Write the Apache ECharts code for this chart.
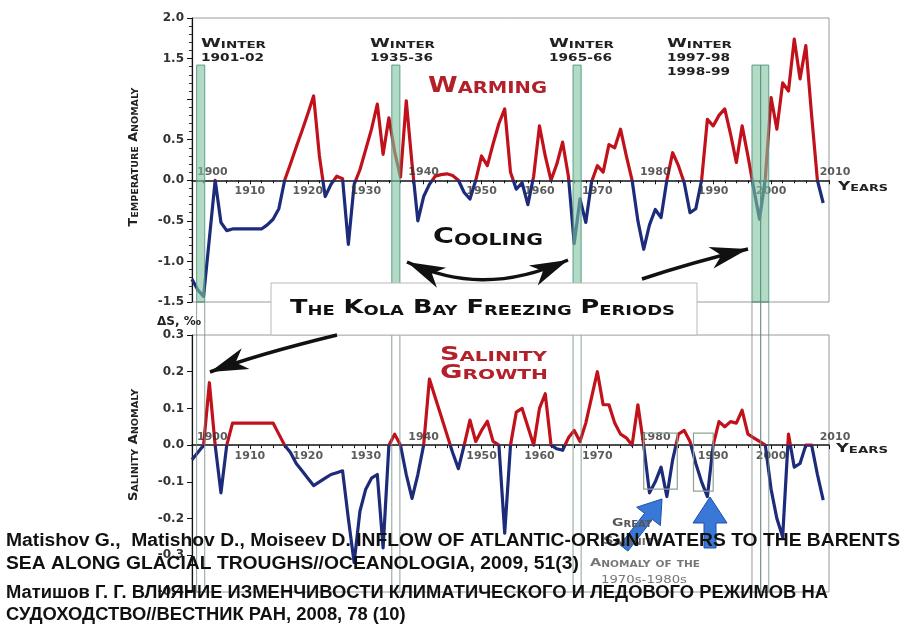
<!DOCTYPE html>
<html>
<head>
<meta charset="utf-8">
<script src="https://cdn.jsdelivr.net/npm/echarts@6/dist/echarts.min.js"></script>
<style>
  html, body { margin: 0; padding: 0; background: #fff; }
  #chart { width: 905px; height: 630px; }
</style>
</head>
<body>
<div id="chart"></div>
<script>
// ---- data -------------------------------------------------------------
const years = [
  1900,1901,1902,1903,1904,1905,1906,1907,1908,1909,
  1910,1911,1912,1913,1914,1915,1916,1917,1918,1919,
  1920,1921,1922,1923,1924,1925,1926,1927,1928,1929,
  1930,1931,1932,1933,1934,1935,1936,1937,1938,1939,
  1940,1941,1942,1943,1944,1945,1946,1947,1948,1949,
  1950,1951,1952,1953,1954,1955,1956,1957,1958,1959,
  1960,1961,1962,1963,1964,1965,1966,1967,1968,1969,
  1970,1971,1972,1973,1974,1975,1976,1977,1978,1979,
  1980,1981,1982,1983,1984,1985,1986,1987,1988,1989,
  1990,1991,1992,1993,1994,1995,1996,1997,1998,1999,
  2000,2001,2002,2003,2004,2005,2006,2007,2008,2009
];

// Kola section temperature anomaly, degrees C
const temperatureAnomaly = [
  -1.22,-1.35,-1.43,-0.72, 0.00,-0.52,-0.62,-0.60,-0.60,-0.60,
  -0.60,-0.60,-0.60,-0.55,-0.48,-0.35, 0.00, 0.20, 0.41, 0.61,
   0.82, 1.04, 0.30,-0.20,-0.05, 0.05, 0.02,-0.79,-0.05, 0.13,
   0.38, 0.63, 0.94, 0.32, 0.77, 0.35, 0.04, 0.98, 0.20,-0.50,
  -0.20,-0.05, 0.05, 0.07, 0.08, 0.06, 0.00,-0.15,-0.23, 0.00,
   0.30, 0.18, 0.45, 0.70, 0.88, 0.10,-0.11,-0.03,-0.30, 0.05,
   0.67, 0.30, 0.00, 0.20, 0.47, 0.05,-0.78,-0.23,-0.52,-0.02,
   0.18, 0.10, 0.44, 0.40, 0.63, 0.30, 0.00,-0.50,-0.85,-0.55,
  -0.36,-0.46, 0.00, 0.34, 0.18,-0.03,-0.40,-0.35, 0.00, 0.75,
   0.67, 0.80, 0.88, 0.57, 0.22, 0.67, 0.30,-0.10,-0.48, 0.02,
   1.02, 0.63, 1.20, 1.10, 1.74, 1.25, 1.66, 0.80, 0.00,-0.28
];

// Salinity anomaly, per mille
const salinityAnomaly = [
  -0.04,-0.02, 0.00, 0.17, 0.00,-0.13, 0.00, 0.06, 0.06, 0.06,
   0.06, 0.06, 0.06, 0.06, 0.06, 0.03, 0.00,-0.02,-0.05,-0.07,
  -0.09,-0.11,-0.10,-0.09,-0.08,-0.075,-0.07,-0.20,-0.32,-0.18,
  -0.12,-0.09,-0.08,-0.28, 0.00, 0.03, 0.00,-0.08,-0.145,-0.08,
   0.00, 0.18, 0.13, 0.08, 0.03,-0.02,-0.064, 0.00, 0.068, 0.01,
   0.04, 0.065, 0.01, 0.00,-0.24, 0.00, 0.09, 0.10, 0.05, 0.00,
   0.10, 0.14, 0.00,-0.01,-0.014, 0.02, 0.04, 0.01, 0.06, 0.13,
   0.20, 0.11, 0.11, 0.06, 0.03, 0.02, 0.00, 0.11, 0.00,-0.13,
  -0.10,-0.06,-0.14,-0.04, 0.03, 0.04, 0.01,-0.05,-0.10,-0.14,
   0.00, 0.064, 0.05, 0.064, 0.06, 0.095, 0.03, 0.02, 0.01, 0.00,
  -0.12,-0.20,-0.25, 0.03,-0.06,-0.05, 0.00, 0.00,-0.08,-0.15
];

// Kola Bay freezing winters, [start, end] in fractional years
const freezingPeriods = [
  [1900.8, 1902.2],
  [1934.5, 1935.9],
  [1965.8, 1967.2],
  [1996.7, 1998.2],
  [1998.2, 1999.6]
];
const freezingBarTop = 1.42;

// Great Salinity Anomaly windows: [start, end, top, bottom]
const gsaWindows = [
  [1978.0, 1983.8, 0.033, -0.12],
  [1986.6, 1990.0, 0.033, -0.125]
];

// tick labels
const yearTicks = [1900, 1910, 1920, 1930, 1940, 1950, 1960, 1970, 1980, 1990, 2000, 2010];
const yearsAboveAxis = [1900, 1940, 1980, 2010];
const temperatureTicks = ['2.0', '1.5', '0.5', '0.0', '-0.5', '-1.0', '-1.5'];

// references printed under the chart
const references = [
  'Matishov G.,  Matishov D., Moiseev D. INFLOW OF ATLANTIC-ORIGIN WATERS TO THE BARENTS',
  'SEA ALONG GLACIAL TROUGHS//OCEANOLOGIA, 2009, 51(3)',
  'Матишов Г. Г. ВЛИЯНИЕ ИЗМЕНЧИВОСТИ КЛИМАТИЧЕСКОГО И ЛЕДОВОГО РЕЖИМОВ НА',
  'СУДОХОДСТВО//ВЕСТНИК РАН, 2008, 78 (10)'
];

// ---- style ------------------------------------------------------------
const RED = '#c1121c';
const BLUE = '#1c2b7a';
const AXIS_FONT = '"DejaVu Sans", sans-serif';
const CAPS_FONT = '"DejaVu Sans"';
const CITE_FONT = '"Liberation Sans"';

const chart = echarts.init(document.getElementById('chart'), null, { renderer: 'canvas' });

function fmtTick(v) {
  if (Math.abs(v) < 1e-9) return '0.0';
  return v.toFixed(1);
}

function makeXAxis(gridIndex) {
  return {
    type: 'value', gridIndex, min: 1900, max: 2010, interval: 10,
    axisLine: { onZero: true, lineStyle: { color: '#111', width: 1.5 } },
    axisTick: { show: true, length: 4, lineStyle: { color: '#111' } },
    minorTick: { show: true, splitNumber: 5, length: 3, lineStyle: { color: '#111' } },
    splitLine: { show: false },
    axisLabel: { show: false }
  };
}

function makeYAxis(gridIndex, min, max, interval, minor, formatter) {
  return {
    type: 'value', gridIndex, min, max, interval,
    axisLine: { show: true, onZero: false, lineStyle: { color: '#111', width: 1.2 } },
    axisTick: { show: true, length: 5, lineStyle: { color: '#111' } },
    minorTick: { show: minor, splitNumber: 5, length: 3, lineStyle: { color: '#333' } },
    splitLine: { show: false },
    axisLabel: {
      margin: 8, fontSize: 12, fontWeight: 'bold', fontFamily: AXIS_FONT, color: '#333',
      formatter
    }
  };
}

const tempData = years.map((y, i) => [y, temperatureAnomaly[i]]);
const salData = years.map((y, i) => [y, salinityAnomaly[i]]);

// year labels sit on the zero line, some above it and some below
function yearLabelSeries(xi, yi) {
  return {
    type: 'scatter', xAxisIndex: xi, yAxisIndex: yi, symbolSize: 0, silent: true, z: 4,
    data: yearTicks.map(y => {
      const above = yearsAboveAxis.includes(y);
      return {
        value: [y, 0],
        label: {
          show: true,
          position: above ? 'top' : 'bottom',
          distance: above ? 3 : 5,
          align: y === 1900 ? 'left' : 'center',
          offset: y === 1900 ? [5, 0] : (y === 2010 ? [6, 0] : [0, 0]),
          formatter: String(y),
          fontSize: 11, fontWeight: 'bold', fontFamily: AXIS_FONT, color: '#333'
        }
      };
    })
  };
}

chart.setOption({
  animation: false,
  backgroundColor: '#fff',
  grid: [
    { left: 192, top: 18, width: 637, height: 284, show: true, borderColor: '#9a9a9a', borderWidth: 1, outerBoundsMode: 'none' },
    { left: 192, top: 335, width: 637, height: 257, show: true, borderColor: '#9a9a9a', borderWidth: 1, outerBoundsMode: 'none' }
  ],
  xAxis: [makeXAxis(0), makeXAxis(1)],
  yAxis: [
    makeYAxis(0, -1.5, 2, 0.5, true, v => {
      const s = fmtTick(v);
      return temperatureTicks.includes(s) ? s : '';
    }),
    makeYAxis(1, -0.4, 0.3, 0.1, false, v => fmtTick(v))
  ],
  visualMap: [
    { show: false, type: 'piecewise', seriesIndex: 0, dimension: 1,
      pieces: [{ gt: 0, lte: 5, color: RED }, { gte: -5, lte: 0, color: BLUE }] },
    { show: false, type: 'piecewise', seriesIndex: 1, dimension: 1,
      pieces: [{ gt: 0, lte: 5, color: RED }, { gte: -5, lte: 0, color: BLUE }] }
  ],
  series: [
    { type: 'line', xAxisIndex: 0, yAxisIndex: 0, data: tempData, showSymbol: false,
      lineStyle: { width: 3.2, join: 'round' }, z: 3 },
    { type: 'line', xAxisIndex: 1, yAxisIndex: 1, data: salData, showSymbol: false,
      lineStyle: { width: 3.2, join: 'round' }, z: 3 },
    yearLabelSeries(0, 0),
    yearLabelSeries(1, 1)
  ]
});

// ---- annotations --------------------------------------------------------
const measureCtx = document.createElement('canvas').getContext('2d');
function textWidth(str, font) { measureCtx.font = font; return measureCtx.measureText(str).width; }

// Copperplate-like small caps built from rich text, stretched to a set width
function capsText(str, o) {
  const runs = [];
  for (const ch of str) {
    const t = (ch !== ch.toUpperCase()) ? 'S' : 'B';
    const c = ch.toUpperCase();
    if (runs.length && runs[runs.length - 1].t === t) runs[runs.length - 1].s += c;
    else runs.push({ t, s: c });
  }
  let w = 0;
  runs.forEach(r => { w += textWidth(r.s, 'bold ' + (r.t === 'B' ? o.big : o.small) + 'px ' + CAPS_FONT); });
  const align = o.align || 'left';
  return {
    type: 'text', x: o.x, y: o.y, rotation: o.rotation || 0, scaleX: o.width / w, z: o.z || 15,
    style: {
      text: runs.map(r => '{' + r.t + '|' + r.s + '}').join(''),
      rich: {
        B: { fontSize: o.big, fontWeight: 'bold', fontFamily: CAPS_FONT, fill: o.color, verticalAlign: 'bottom' },
        S: { fontSize: o.small, fontWeight: 'bold', fontFamily: CAPS_FONT, fill: o.color, verticalAlign: 'bottom' }
      },
      fill: o.color, align, textAlign: align, verticalAlign: 'middle', textVerticalAlign: 'middle'
    }
  };
}

function plainText(str, o) {
  const font = (o.weight || 'bold') + ' ' + o.size + 'px ' + o.family;
  const w = textWidth(str, font);
  const sx = o.scaleX != null ? o.scaleX : (o.width ? o.width / w : 1);
  return {
    type: 'text', x: o.x, y: o.y, scaleX: sx, z: o.z || 20,
    style: { text: str, font, fill: o.color || '#111', align: 'left', textAlign: 'left',
             verticalAlign: 'middle', textVerticalAlign: 'middle' }
  };
}

function arrowHead(tip, from, len, halfW, color) {
  const dx = tip[0] - from[0], dy = tip[1] - from[1];
  const d = Math.hypot(dx, dy), ux = dx / d, uy = dy / d, px = -uy, py = ux;
  const bx = tip[0] - ux * len, by = tip[1] - uy * len;
  const nx = tip[0] - ux * len * 0.72, ny = tip[1] - uy * len * 0.72;
  return { type: 'polygon', z: 14,
    shape: { points: [tip, [bx + px * halfW, by + py * halfW], [nx, ny], [bx - px * halfW, by - py * halfW]] },
    style: { fill: color } };
}
function curvedArrow(p0, c1, c2, p1, color, doubleHead) {
  const els = [{ type: 'bezierCurve', z: 14,
    shape: { x1: p0[0], y1: p0[1], cpx1: c1[0], cpy1: c1[1], cpx2: c2[0], cpy2: c2[1], x2: p1[0], y2: p1[1] },
    style: { stroke: color, lineWidth: 3.5, fill: null } }];
  els.push(arrowHead(p1, c2, 38, 11, color));
  if (doubleHead) els.push(arrowHead(p0, c1, 38, 11, color));
  return els;
}
function blockArrow(tail, tip, sw, hw, hl, color) {
  const dx = tip[0] - tail[0], dy = tip[1] - tail[1];
  const d = Math.hypot(dx, dy), ux = dx / d, uy = dy / d, px = -uy, py = ux;
  const b = [tip[0] - ux * hl, tip[1] - uy * hl];
  const pts = [tip,
    [b[0] + px * hw / 2, b[1] + py * hw / 2], [b[0] + px * sw / 2, b[1] + py * sw / 2],
    [tail[0] + px * sw / 2, tail[1] + py * sw / 2], [tail[0] - px * sw / 2, tail[1] - py * sw / 2],
    [b[0] - px * sw / 2, b[1] - py * sw / 2], [b[0] - px * hw / 2, b[1] - py * hw / 2]];
  return { type: 'polygon', z: 14, shape: { points: pts },
    style: { fill: color, stroke: '#1d4fa8', lineWidth: 1 } };
}

const topPx = (x, y) => chart.convertToPixel({ xAxisIndex: 0, yAxisIndex: 0 }, [x, y]);
const botPx = (x, y) => chart.convertToPixel({ xAxisIndex: 1, yAxisIndex: 1 }, [x, y]);

const g = [];

// freezing periods: filled in the temperature panel, outlined below
freezingPeriods.forEach(([a, b]) => {
  const p0 = topPx(a, freezingBarTop), p1 = topPx(b, -1.5);
  g.push({ type: 'rect', z: 5,
    shape: { x: p0[0], y: p0[1], width: p1[0] - p0[0], height: p1[1] - p0[1] },
    style: { fill: 'rgba(130,196,160,0.62)', stroke: 'rgba(80,150,130,0.9)', lineWidth: 1 } });
  const q1 = botPx(b, -0.4);
  g.push({ type: 'rect', z: 5,
    shape: { x: p0[0], y: p1[1], width: q1[0] - p0[0], height: q1[1] - p1[1] },
    style: { fill: null, stroke: 'rgba(110,140,130,0.8)', lineWidth: 1 } });
});

// Great Salinity Anomaly windows
gsaWindows.forEach(([a, b, t, btm]) => {
  const p0 = botPx(a, t), p1 = botPx(b, btm);
  g.push({ type: 'rect', z: 6,
    shape: { x: p0[0], y: p0[1], width: p1[0] - p0[0], height: p1[1] - p0[1] },
    style: { fill: null, stroke: '#8fa294', lineWidth: 1.2 } });
});

// legend box
g.push({ type: 'rect', z: 10, shape: { x: 271, y: 283, width: 426, height: 52 },
  style: { fill: '#fff', stroke: '#b8b8b8', lineWidth: 1 } });
g.push(capsText('The Kola Bay Freezing Periods', { x: 290, y: 308, width: 385, big: 20, small: 14, color: '#111', z: 12 }));

// winter labels
const W = { big: 12, small: 9, color: '#222' };
[[201, ['1901-02']], [370, ['1935-36']], [549, ['1965-66']], [667, ['1997-98', '1998-99']]].forEach(([x, lines]) => {
  g.push(capsText('Winter', Object.assign({ x, y: 44, width: 65 }, W)));
  lines.forEach((s, i) => {
    g.push(capsText(s, { x, y: 58 + i * 14.5, width: 63, big: 11, small: 11, color: '#222' }));
  });
});

g.push(capsText('Warming', { x: 428, y: 86, width: 119, big: 22, small: 16, color: '#b3202a' }));
g.push(capsText('Cooling', { x: 433, y: 238, width: 110, big: 21, small: 15, color: '#111' }));
g.push(capsText('Salinity', { x: 440, y: 355, width: 107, big: 19, small: 14, color: '#b3202a' }));
g.push(capsText('Growth', { x: 440, y: 373, width: 108, big: 19, small: 14, color: '#b3202a' }));
g.push(capsText('Years', { x: 838, y: 187, width: 50, big: 12, small: 9, color: '#222' }));
g.push(capsText('Years', { x: 836, y: 449, width: 52, big: 12, small: 9, color: '#222' }));

g.push(capsText('Temperature Anomaly', { x: 134, y: 157, width: 139, big: 12, small: 9, color: '#222',
  align: 'center', rotation: Math.PI / 2 }));
g.push(capsText('Salinity Anomaly', { x: 134, y: 445, width: 112, big: 12, small: 9, color: '#222',
  align: 'center', rotation: Math.PI / 2 }));
g.push(plainText('\u0394S, \u2030', { x: 157, y: 322, size: 12, family: AXIS_FONT, color: '#222', width: 44, z: 12 }));

// Great Salinity Anomaly caption
g.push(capsText('Great', { x: 612, y: 523, width: 40, big: 11, small: 8, color: '#555' }));
g.push(capsText('Salinity', { x: 603, y: 541, width: 58, big: 11, small: 8, color: '#666' }));
g.push(capsText('Anomaly of the', { x: 590, y: 563, width: 110, big: 11, small: 8, color: '#777' }));
g.push(plainText('1970s-1980s', { x: 601, y: 580, size: 10, weight: 'normal', family: AXIS_FONT, color: '#777', width: 86, z: 15 }));

// arrows
const BLACK = '#111';
g.push(...curvedArrow([407, 262], [455, 284], [505, 288], [568, 260], BLACK, true));
g.push(...curvedArrow([642, 279], [675, 268], [710, 258], [748, 249], BLACK, false));
g.push(...curvedArrow([337, 335], [300, 344], [250, 357], [210, 372], BLACK, false));
g.push(blockArrow([624, 548], [662, 499], 10, 30, 22, '#3a78d8'));
g.push(blockArrow([710, 548], [710, 497], 12, 34, 26, '#3a78d8'));

// references: Latin lines share one compression, Cyrillic lines another
const citeFont = 'bold 18px ' + CITE_FONT;
const latinScale = 894 / textWidth(references[0], citeFont);
const cyrScale = 822 / textWidth(references[2], citeFont);
const citeRows = [541, 564, 593, 615];
references.forEach((s, i) => {
  g.push(plainText(s, { x: 6, y: citeRows[i], size: 18, family: CITE_FONT, scaleX: i < 2 ? latinScale : cyrScale }));
});

chart.setOption({ graphic: { elements: g } });
</script>
</body>
</html>
